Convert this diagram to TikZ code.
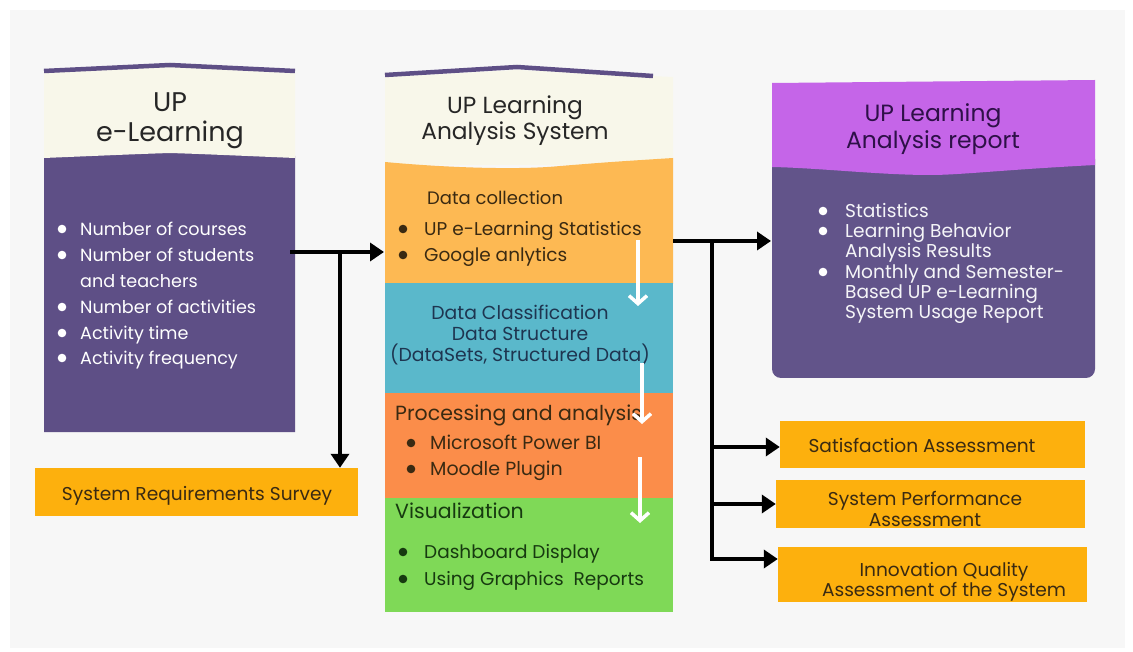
\documentclass[tikz,border=0pt]{standalone}
\usepackage{fontspec}
\setmainfont{Poppins}
\usetikzlibrary{arrows.meta}
\definecolor{bggray}{HTML}{F7F7F7}
\definecolor{purp}{HTML}{5E4F86}
\definecolor{purpR}{HTML}{62548A}
\definecolor{cream}{HTML}{F8F7EA}
\definecolor{orA}{HTML}{FDB953}
\definecolor{teal}{HTML}{5AB8CB}
\definecolor{orB}{HTML}{FB8D4A}
\definecolor{grn}{HTML}{7FD957}
\definecolor{ylw}{HTML}{FDB00D}
\definecolor{pink}{HTML}{C565E8}
\definecolor{brn}{HTML}{3A2A12}
\definecolor{navy}{HTML}{1E3550}
\definecolor{dpurp}{HTML}{2E1048}
\definecolor{dgreen}{HTML}{173A10}
\tikzset{
  conn/.style={line width=4pt,-{Triangle[length=14pt,width=18pt]}},
  wconn/.style={line width=3.5pt,white,-{Straight Barb[length=8pt,width=18pt,line width=3.5pt]}},
  ln/.style={line width=4pt},
  wtxt/.style={anchor=mid west,inner sep=0pt,yshift=-4pt,text=white,font=\fontsize{17.6}{20}\selectfont},
  btxt/.style={anchor=mid west,inner sep=0pt,yshift=-4pt,text=brn,font=\fontsize{18.5}{20}\selectfont},
  rtxt/.style={anchor=mid west,inner sep=0pt,yshift=-4pt,text=white!94!purp,font=\fontsize{18.6}{20}\selectfont},
  boxtxt/.style={text=brn,font=\fontsize{18.6}{20.5}\selectfont,align=center,inner sep=0pt},
  ybox/.style={fill=ylw,draw=none},
}
\begin{document}
\begin{tikzpicture}[x=1pt,y=-1pt]
\useasboundingbox (0,0) rectangle (1133,652);
\fill[white] (0,0) rectangle (1133,652);
\fill[bggray] (10,10) rectangle (1125,648);

% ---------- left column ----------
\fill[purp] (44,156) -- (170,152) -- (295,156) -- (295,432) -- (44,432) -- cycle;
\fill[cream] (44,71) -- (170,66) -- (295,71) -- (295,158) .. controls (200,154) .. (170,153) .. controls (140,154) .. (44,158) -- cycle;
\draw[purp,line width=4.5pt] (44,71) -- (170,65) -- (295,71);
\node[font=\fontsize{27}{30}\selectfont,text=black!85,align=center] (lhead) at (170,121) {UP\\e-Learning};

\node[wtxt] (l1) at (80,229) {Number of courses};
\node[wtxt] (l2) at (80,255) {Number of students};
\node[wtxt] (l3) at (80,281) {and teachers};
\node[wtxt] (l4) at (80,307) {Number of activities};
\node[wtxt] (l5) at (80,333) {Activity time};
\node[wtxt] (l6) at (80,358) {Activity frequency};
\foreach \yy in {229,255,307,333,358}{
  \fill[white] (62,\yy) circle (4.3pt);
}

\node[ybox,minimum width=323pt,minimum height=48pt,inner sep=0pt] (survey) at (196.5,492) {};
\node[boxtxt] (surveyt) at (197,496) {System Requirements Survey};

\coordinate (lout) at (290,252);
\coordinate (lbr) at (340,252);

% ---------- middle column ----------
\fill[cream] (385,77) -- (517,70) -- (673,77) -- (673,165) -- (385,165) -- cycle;
\draw[purp,line width=4.5pt] (385,75) -- (517,67) -- (653,76);
\fill[orA] (385,162) .. controls (450,168) and (520,170) .. (560,166) .. controls (610,162) .. (673,158) -- (673,284) -- (385,284) -- cycle;
\fill[teal] (385,283) rectangle (673,394);
\fill[orB] (385,393) rectangle (673,499);
\fill[grn] (385,498) rectangle (673,612);
\node[font=\fontsize{23.3}{26}\selectfont,text=black!85,align=center] (mhead) at (515,121) {UP Learning\\Analysis System};

\node[btxt,font=\fontsize{18}{20}\selectfont] (dc) at (427,198) {Data collection};
\node[btxt] (dc1) at (424,229) {UP e-Learning Statistics};
\node[btxt] (dc2) at (424,255) {Google anlytics};
\fill[brn] (403,229) circle (4.3pt);
\fill[brn] (403,255) circle (4.3pt);

\node[text=navy,font=\fontsize{18.8}{21}\selectfont,align=center,inner sep=0pt] (cls) at (520,335) {Data Classification\\Data Structure\\(DataSets, Structured Data)};

\node[btxt,font=\fontsize{20.5}{22}\selectfont] (pa) at (395,414) {Processing and analysis};
\node[btxt,font=\fontsize{19}{20}\selectfont] (pa1) at (430,443) {Microsoft Power BI};
\node[btxt,font=\fontsize{19}{20}\selectfont] (pa2) at (430,469) {Moodle Plugin};
\fill[brn] (411,443) circle (4.3pt);
\fill[brn] (411,469) circle (4.3pt);

\node[btxt,text=dgreen,font=\fontsize{20.5}{22}\selectfont] (vz) at (395,512) {Visualization};
\node[btxt,text=dgreen] (vz1) at (424,552) {Dashboard Display};
\node[btxt,text=dgreen] (vz2) at (424,579) {Using Graphics\ \ Reports};
\fill[dgreen] (403,552) circle (4.3pt);
\fill[dgreen] (403,579) circle (4.3pt);

\coordinate (w1a) at (638,240); \coordinate (w1b) at (638,306);
\coordinate (w2a) at (642,363); \coordinate (w2b) at (642,424);
\coordinate (w3a) at (640,457); \coordinate (w3b) at (640,523);
\draw[wconn] (w1a) -- (w1b);
\draw[wconn] (w2a) -- (w2b);
\draw[wconn] (w3a) -- (w3b);

\coordinate (min) at (384,252);
\coordinate (mout) at (673,241);
\coordinate (mbr) at (712,241);

% ---------- right column ----------
\fill[purpR,rounded corners=9pt] (772,150) rectangle (1095,378);
\fill[pink] (772,83) -- (1095,80) -- (1095,165) .. controls (1000,170) and (960,175) .. (930,175) .. controls (880,175) and (820,168) .. (772,167) -- cycle;
\node[font=\fontsize{23.5}{27}\selectfont,text=dpurp,align=center] (rhead) at (933,129) {UP Learning\\Analysis report};
\coordinate (rin) at (771,241);

\node[rtxt] (r1) at (845,211) {Statistics};
\node[rtxt] (r2) at (845,231) {Learning Behavior};
\node[rtxt] (r3) at (845,251) {Analysis Results};
\node[rtxt] (r4) at (845,272) {Monthly and Semester-};
\node[rtxt] (r5) at (845,292) {Based UP e-Learning};
\node[rtxt] (r6) at (845,312) {System Usage Report};
\fill[white] (823,211) circle (4.3pt);
\fill[white] (823,231) circle (4.3pt);
\fill[white] (823,272) circle (4.3pt);

\node[ybox,minimum width=305pt,minimum height=47pt,inner sep=0pt] (sat) at (932.5,444.5) {};
\node[boxtxt] (satt) at (922,445) {Satisfaction Assessment};
\node[ybox,minimum width=309pt,minimum height=48pt,inner sep=0pt] (perf) at (930.5,504) {};
\node[boxtxt] (perft) at (925,509) {System Performance\\Assessment};
\node[ybox,minimum width=309pt,minimum height=55pt,inner sep=0pt] (inn) at (932.5,574.5) {};
\node[boxtxt] (innt) at (944,582) {Innovation Quality\\Assessment of the System};

% ---------- connectors ----------
\draw[conn] (lout) -- (min);
\draw[conn] (lbr) -- (survey.north -| lbr);
\draw[conn] (mout) -- (rin);
\draw[ln] (mbr) -- (712,561);
\draw[conn] (710,447) -- (sat.west |- 0,447);
\draw[conn] (710,504) -- (perf.west |- 0,504);
\draw[conn] (710,559) -- (inn.west |- 0,559);
\end{tikzpicture}
\end{document}
